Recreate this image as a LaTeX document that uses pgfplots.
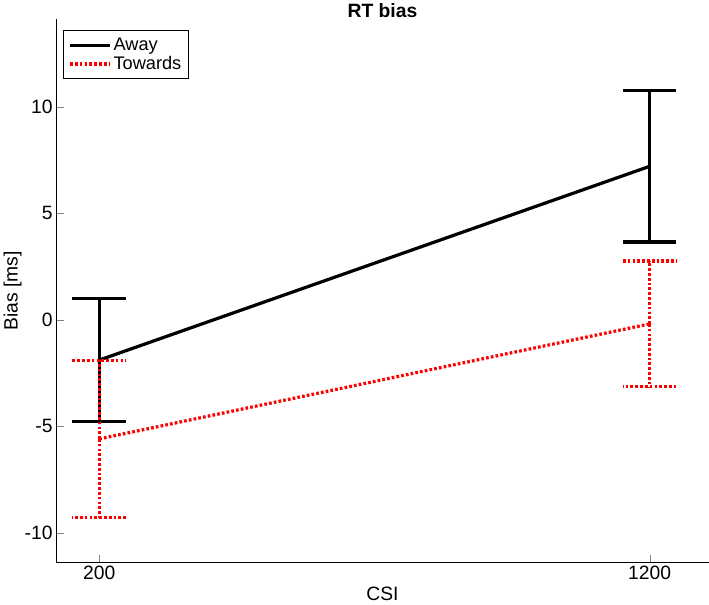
\documentclass[border=0pt]{standalone}
\usepackage{pgfplots}
\pgfplotsset{compat=1.18}
\usepackage{fontspec}
\setmainfont{Liberation Sans}
\begin{document}
\begin{tikzpicture}
\begin{axis}[
  scale only axis, width=609pt, height=507pt,
  xmin=122, xmax=1307, ymin=-11.4, ymax=14.1,
  axis lines*=left, axis line style={line width=0.8pt},
  xtick={200,1200}, ytick={-10,-5,0,5,10},
  xticklabel style={/pgf/number format/1000 sep={}},
  tick align=inside, major tick length=7pt,
  font=\fontsize{18}{22}\selectfont,
  /pgf/number format/assume math mode=true,
  title={\textbf{RT bias}},
  title style={yshift=-8pt},
  xlabel={CSI}, ylabel={Bias [ms]},
  ylabel style={yshift=-4pt},
  legend style={draw=black, line width=0.8pt, font=\fontsize{17}{22}\selectfont, at={(0.01,0.98)}, anchor=north west, legend cell align=left, inner sep=5pt},
  legend image code/.code={\draw[#1] (0cm,0cm) -- (1.3cm,0cm);},
]
\addplot[black, line width=3pt, mark=none, error bars/.cd, y dir=both, y explicit,
  error bar style={line width=3pt}, error mark options={rotate=90, mark size=25pt, line width=3pt}]
  coordinates {(200,-1.9) +- (0,2.9) (1200,7.2) +- (0,3.55)};
\addlegendentry{Away}
\addplot[red, line width=3pt, dash pattern=on 2.5pt off 2pt, mark=none, error bars/.cd, y dir=both, y explicit,
  error bar style={line width=3pt, dash pattern=on 2.5pt off 2pt}, error mark options={rotate=90, mark size=25pt, line width=3pt, dash pattern=on 2.5pt off 2pt}]
  coordinates {(200,-5.6) +- (0,3.7) (1200,-0.2) +- (0,2.95)};
\addlegendentry{Towards}
\end{axis}
\end{tikzpicture}
\end{document}
